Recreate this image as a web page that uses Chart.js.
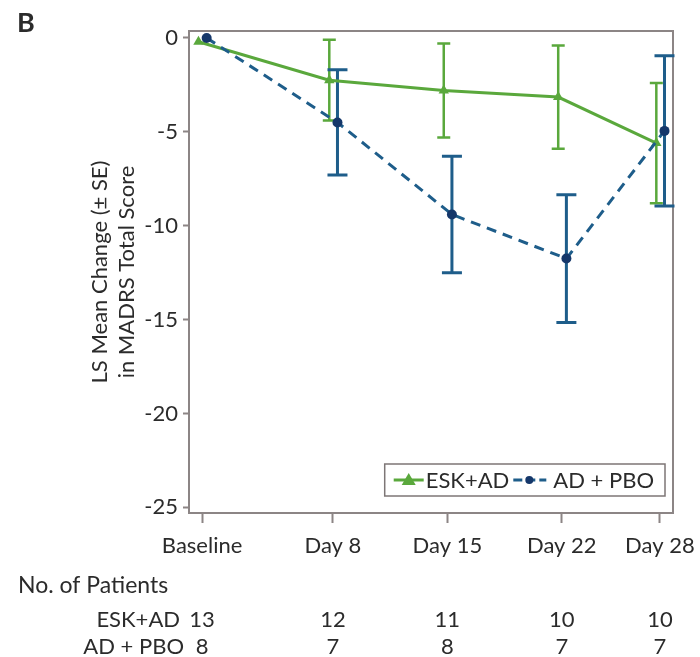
<!DOCTYPE html>
<html>
<head>
<meta charset="utf-8">
<script src="https://cdn.jsdelivr.net/npm/chart.js@4.4.0/dist/chart.umd.min.js"></script>
<style>
  html, body { margin: 0; padding: 0; background: #fff; }
  #wrap { width: 700px; height: 657px; }
</style>
</head>
<body>
<div id="wrap"><canvas id="chart" width="700" height="657"></canvas></div>
<script>
'use strict';

// values
var days = [0, 8, 15, 22, 28];
var dayLabels = ['Baseline', 'Day 8', 'Day 15', 'Day 22', 'Day 28'];
var yTicks = [0, -5, -10, -15, -20, -25];

var eskMean = [-0.2, -2.25, -2.8, -3.15, -5.6];
var eskSE = [0, 2.15, 2.5, 2.75, 3.2];
var pboMean = [0, -4.5, -9.4, -11.75, -4.95];
var pboSE = [0, 2.8, 3.1, 3.4, 4.0];

var eskPatients = [13, 12, 11, 10, 10];
var pboPatients = [8, 7, 8, 7, 7];

var FONT = 'Lato, "Open Sans", sans-serif';
var TEXT = '#2b2b2b';
var FRAME = '#8c8585';
var GREEN = '#5aa83c';
var BLUE = '#1e5d8a';
var BLUE_DOT = '#15376a';

// small horizontal dodge so the two groups don't overlap (in days)
var ESK_SHIFT = -0.22;
var PBO_SHIFT = 0.28;

function toPoints(values, shift) {
    return values.map(function (v, i) {
        return {x: days[i] + shift, y: v};
    });
}

var framePlugin = {
    id: 'frame',
    beforeDatasetsDraw: function (chart) {
        var a = chart.chartArea;
        var ctx = chart.ctx;
        ctx.save();
        ctx.strokeStyle = FRAME;
        ctx.lineWidth = 2;
        ctx.strokeRect(a.left, a.top, a.right - a.left, a.bottom - a.top);
        ctx.restore();
    },
};

var errorBarsPlugin = {
    id: 'errorBars',
    beforeDatasetsDraw: function (chart) {
        var ctx = chart.ctx;
        var xs = chart.scales.x;
        var ys = chart.scales.y;
        chart.data.datasets.forEach(function (ds) {
            ctx.save();
            ctx.strokeStyle = ds.barColor;
            ctx.lineWidth = ds.barWidth;
            ds.data.forEach(function (pt, i) {
                var se = ds.se[i];
                if (!se) {
                    return;
                }
                var x = xs.getPixelForValue(pt.x);
                var top = ys.getPixelForValue(pt.y + se);
                var bot = ys.getPixelForValue(pt.y - se);
                var c = ds.capHalf;
                ctx.beginPath();
                ctx.moveTo(x, top);
                ctx.lineTo(x, bot);
                ctx.moveTo(x - c, top);
                ctx.lineTo(x + c, top);
                ctx.moveTo(x - c, bot);
                ctx.lineTo(x + c, bot);
                ctx.stroke();
            });
            ctx.restore();
        });
    },
};

var legendPlugin = {
    id: 'boxLegend',
    afterDraw: function (chart) {
        var ctx = chart.ctx;
        var a = chart.chartArea;
        ctx.save();
        ctx.font = '22px ' + FONT;
        var t1 = chart.data.datasets[0].label;
        var t2 = chart.data.datasets[1].label;
        var w1 = ctx.measureText(t1).width;
        var w2 = ctx.measureText(t2).width;
        var boxW = 9 + 30 + 2 + w1 + 4 + 33 + 7 + w2 + 11;
        var boxH = 32;
        var right = a.right - 8;
        var bottom = a.bottom - 17;
        var left = right - boxW;
        var top = bottom - boxH;
        var cy = top + boxH / 2;

        ctx.fillStyle = '#fff';
        ctx.fillRect(left, top, boxW, boxH);
        ctx.strokeStyle = '#7d7676';
        ctx.lineWidth = 1.5;
        ctx.strokeRect(left, top, boxW, boxH);

        // ESK+AD symbol
        var x = left + 9;
        ctx.strokeStyle = GREEN;
        ctx.lineWidth = 3;
        ctx.beginPath();
        ctx.moveTo(x, cy);
        ctx.lineTo(x + 30, cy);
        ctx.stroke();
        ctx.fillStyle = GREEN;
        ctx.beginPath();
        ctx.moveTo(x + 15, cy - 7);
        ctx.lineTo(x + 22, cy + 5);
        ctx.lineTo(x + 8, cy + 5);
        ctx.closePath();
        ctx.fill();
        x += 32;
        ctx.fillStyle = TEXT;
        ctx.textBaseline = 'middle';
        ctx.fillText(t1, x, cy + 1);
        x += w1 + 4;

        // AD + PBO symbol
        ctx.strokeStyle = BLUE;
        ctx.lineWidth = 3;
        ctx.setLineDash([9, 4]);
        ctx.beginPath();
        ctx.moveTo(x, cy);
        ctx.lineTo(x + 33, cy);
        ctx.stroke();
        ctx.setLineDash([]);
        ctx.fillStyle = BLUE_DOT;
        ctx.beginPath();
        ctx.arc(x + 16, cy, 4, 0, Math.PI * 2);
        ctx.fill();
        x += 40;
        ctx.fillStyle = TEXT;
        ctx.fillText(t2, x, cy + 1);
        ctx.restore();
    },
};

var annotationsPlugin = {
    id: 'annotations',
    afterDraw: function (chart) {
        var ctx = chart.ctx;
        var xs = chart.scales.x;
        ctx.save();
        ctx.fillStyle = TEXT;
        ctx.textBaseline = 'middle';

        // panel letter
        ctx.font = 'bold 27px ' + FONT;
        ctx.textAlign = 'left';
        ctx.fillText('B', 17, 23);

        // patients table
        ctx.font = '23px ' + FONT;
        ctx.fillText('No. of Patients', 18, 586);
        ctx.font = '22px ' + FONT;
        ctx.textAlign = 'right';
        ctx.fillText('ESK+AD', 180, 620);
        ctx.fillText('AD + PBO', 184, 647);
        ctx.textAlign = 'center';
        days.forEach(function (d, i) {
            var px = xs.getPixelForValue(d);
            ctx.fillText(String(eskPatients[i]), px, 620);
            ctx.fillText(String(pboPatients[i]), px, 647);
        });
        ctx.restore();
    },
};

var ctx = document.getElementById('chart').getContext('2d');
new Chart(ctx, {
    type: 'line',
    data: {
        datasets: [{
            label: 'ESK+AD',
            data: toPoints(eskMean, ESK_SHIFT),
            se: eskSE,
            barColor: GREEN,
            barWidth: 2.5,
            capHalf: 6.5,
            borderColor: GREEN,
            backgroundColor: GREEN,
            borderWidth: 3,
            pointStyle: 'triangle',
            pointRadius: 6,
            pointBorderWidth: 0,
            pointBackgroundColor: GREEN,
            tension: 0,
            order: 1,
        }, {
            label: 'AD + PBO',
            data: toPoints(pboMean, PBO_SHIFT),
            se: pboSE,
            barColor: BLUE,
            barWidth: 3,
            capHalf: 10,
            borderColor: BLUE,
            backgroundColor: BLUE_DOT,
            borderWidth: 3,
            borderDash: [10, 7],
            pointStyle: 'circle',
            pointRadius: 5,
            pointBorderWidth: 0,
            pointBackgroundColor: BLUE_DOT,
            tension: 0,
            order: 0,
        }],
    },
    options: {
        responsive: false,
        animation: false,
        devicePixelRatio: 1,
        layout: {padding: {top: 31, right: 27, bottom: 0, left: 0}},
        plugins: {
            legend: {display: false},
            tooltip: {enabled: false},
        },
        scales: {
            x: {
                type: 'linear',
                min: -0.8,
                max: 28.8,
                afterFit: function (scale) {
                    scale.height = 144;
                    scale.paddingLeft = 0;
                    scale.paddingRight = 0;
                },
                afterBuildTicks: function (scale) {
                    scale.ticks = days.map(function (d) {
                        return {value: d};
                    });
                },
                border: {display: false},
                grid: {
                    drawOnChartArea: false,
                    drawTicks: true,
                    tickLength: 10,
                    tickWidth: 2,
                    color: FRAME,
                },
                ticks: {
                    padding: 10,
                    maxRotation: 0,
                    autoSkip: false,
                    color: TEXT,
                    font: {family: FONT, size: 22},
                    callback: function (value) {
                        return dayLabels[days.indexOf(value)];
                    },
                },
            },
            y: {
                min: -25.3,
                max: 0.37,
                afterFit: function (scale) {
                    scale.width = 189;
                },
                afterBuildTicks: function (scale) {
                    scale.ticks = yTicks.map(function (v) {
                        return {value: v};
                    });
                },
                border: {display: false},
                grid: {
                    drawOnChartArea: false,
                    drawTicks: true,
                    tickLength: 6,
                    tickWidth: 2,
                    color: FRAME,
                },
                ticks: {
                    padding: 5,
                    color: TEXT,
                    font: {family: FONT, size: 22},
                },
                title: {
                    display: true,
                    text: ['LS Mean Change (\u00B1 SE)', 'in MADRS Total Score'],
                    color: TEXT,
                    font: {family: FONT, size: 22, lineHeight: 1.23},
                    padding: {top: 86, bottom: 0},
                },
            },
        },
    },
    plugins: [framePlugin, errorBarsPlugin, legendPlugin, annotationsPlugin],
});
</script>
</body>
</html>
